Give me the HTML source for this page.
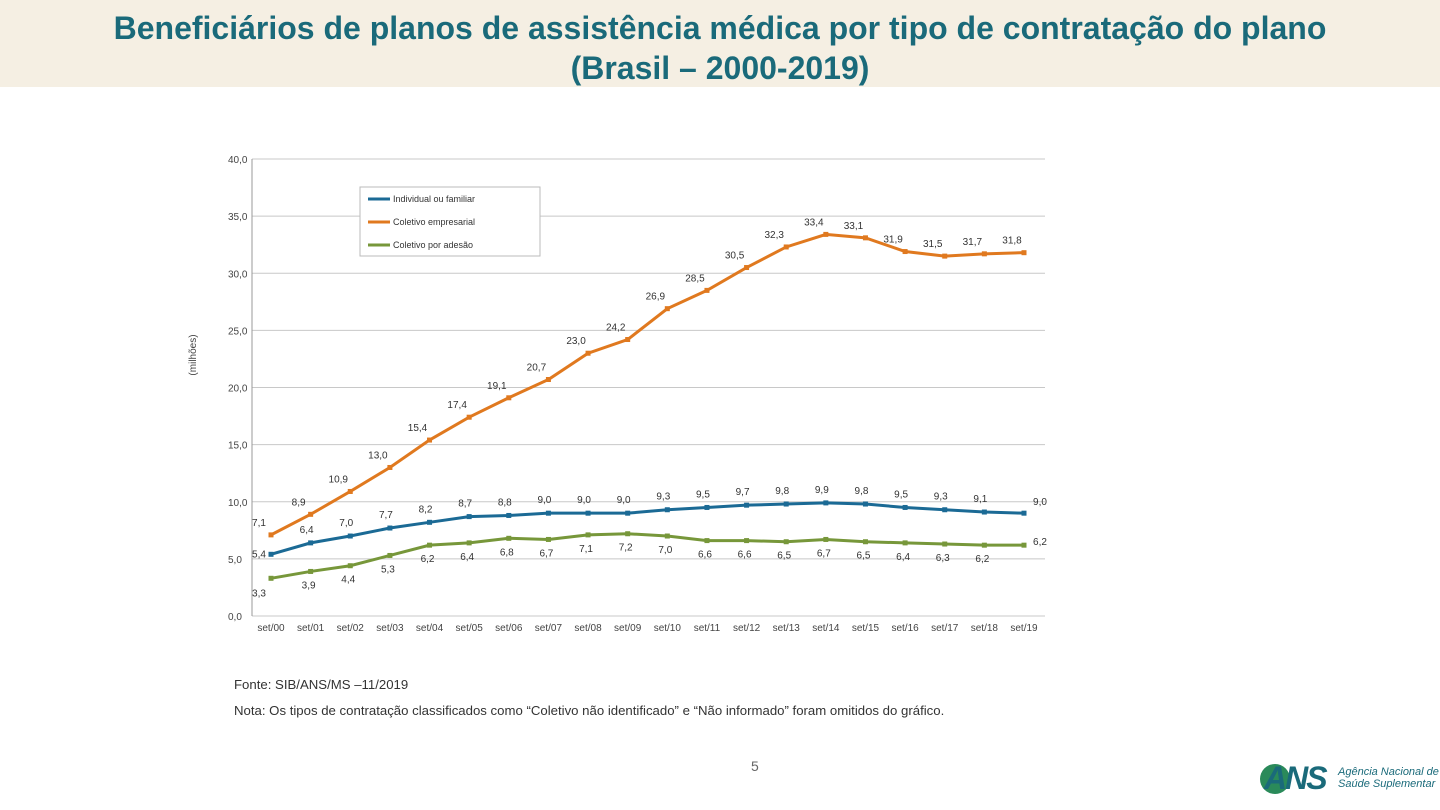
<!DOCTYPE html>
<html><head><meta charset="utf-8">
<style>
body{margin:0;width:1440px;height:810px;background:#fff;font-family:"Liberation Sans",sans-serif;overflow:hidden;position:relative}
#title{position:absolute;left:0;top:0;width:1440px;height:87px;background:#f5efe3;color:#1a6a7a;font-weight:bold;font-size:32px;text-align:center;line-height:40px;padding-top:8px;box-sizing:border-box}
.note{position:absolute;font-size:13.2px;color:#333}
</style></head><body>
<div id="title">Beneficiários de planos de assistência médica por tipo de contratação do plano<br>(Brasil – 2000-2019)</div>
<svg id="chart" width="1440" height="810" style="position:absolute;left:0;top:0"></svg>
<div class="note" style="left:234px;top:677px">Fonte: SIB/ANS/MS –11/2019</div>
<div class="note" style="left:234px;top:703px">Nota: Os tipos de contratação classificados como “Coletivo não identificado” e “Não informado” foram omitidos do gráfico.</div>
<div class="note" style="left:751px;top:758px;font-size:14px;color:#666">5</div>
<div style="position:absolute;left:1258px;top:760px;width:182px;height:38px">
<div style="position:absolute;left:2px;top:4px;width:30px;height:30px;border-radius:50%;background:#2a8a5a"></div>
<div style="position:absolute;left:6px;top:0px;font-size:32px;font-weight:bold;color:#1a6a7a;letter-spacing:-2px;font-style:italic">ANS</div>
<div style="position:absolute;left:80px;top:6px;width:110px;white-space:nowrap;font-size:11px;line-height:12px;color:#1a6a7a;font-style:italic">Agência Nacional de<br>Saúde Suplementar</div>
</div>
<script>
const categories=["set/00","set/01","set/02","set/03","set/04","set/05","set/06","set/07","set/08","set/09","set/10","set/11","set/12","set/13","set/14","set/15","set/16","set/17","set/18","set/19"];
const individual=[5.4,6.4,7.0,7.7,8.2,8.7,8.8,9.0,9.0,9.0,9.3,9.5,9.7,9.8,9.9,9.8,9.5,9.3,9.1,9.0];
const empresarial=[7.1,8.9,10.9,13.0,15.4,17.4,19.1,20.7,23.0,24.2,26.9,28.5,30.5,32.3,33.4,33.1,31.9,31.5,31.7,31.8];
const adesao=[3.3,3.9,4.4,5.3,6.2,6.4,6.8,6.7,7.1,7.2,7.0,6.6,6.6,6.5,6.7,6.5,6.4,6.3,6.2,6.2];
const yTicks=[0,5,10,15,20,25,30,35,40];
const seriesNames=["Individual ou familiar","Coletivo empresarial","Coletivo por adesão"];
const svg=document.getElementById('chart');const NS='http://www.w3.org/2000/svg';
const x0=252,x1=1045,yTop=159,yBot=616;
const xs=i=>271+i*(1024-271)/(categories.length-1);
const ys=v=>yBot-(v/40)*(yBot-yTop);
function el(t,a,txt){const e=document.createElementNS(NS,t);for(const k in a)e.setAttribute(k,a[k]);if(txt!==undefined)e.textContent=txt;svg.appendChild(e);return e;}
const fmt=v=>v.toFixed(1).replace('.',',');
yTicks.forEach(t=>{const g=el('line',{x1:x0,x2:x1,y1:ys(t),y2:ys(t),stroke:'#c8c8c8','stroke-width':1});

const l=el('text',{x:228,y:ys(t)+4,'font-size':10,fill:'#444'},fmt(t));
});
const ax=el('line',{x1:x0,x2:x0,y1:yTop,y2:yBot,stroke:'#999'});
categories.forEach((c,i)=>{const l=el('text',{x:xs(i),y:631,'font-size':10,fill:'#444','text-anchor':'middle'},c);
});
const yl=el('text',{x:0,y:0,'font-size':10,fill:'#444','text-anchor':'middle',transform:'translate(196,355) rotate(-90)'},'(milhões)');

const colors=['#1b6a95','#e0791f','#77973a'];
const data=[individual,empresarial,adesao];
const offs=[[-4,-10],[-12,-9],[-2,17]];
data.forEach((d,s)=>{
 const p=el('path',{d:d.map((v,i)=>(i?'L':'M')+xs(i)+','+ys(v)).join(''),fill:'none',stroke:colors[s],'stroke-width':3});
 
 d.forEach((v,i)=>{const m=el('rect',{x:xs(i)-2.5,y:ys(v)-2.5,width:5,height:5,fill:colors[s]});
  
  let dx=offs[s][0],dy=offs[s][1];
  if(i===0&&s!==1){dx=-12;dy=s===0?3:18;}
  if(i===19&&s!==1){dx=16;dy=s===0?-8:0;}
  const t=el('text',{x:xs(i)+dx,y:ys(v)+dy,'font-size':10,fill:'#333','text-anchor':'middle'},fmt(v));
  });
});
const lg=el('rect',{x:360,y:187,width:180,height:69,fill:'#fff',stroke:'#bbb'});
seriesNames.forEach((n,s)=>{const y=199+s*23;
 const l=el('line',{x1:368,x2:390,y1:y,y2:y,stroke:colors[s],'stroke-width':3});
 const t=el('text',{x:393,y:y+3,'font-size':9,fill:'#333'},n);});
</script>
</body></html>
